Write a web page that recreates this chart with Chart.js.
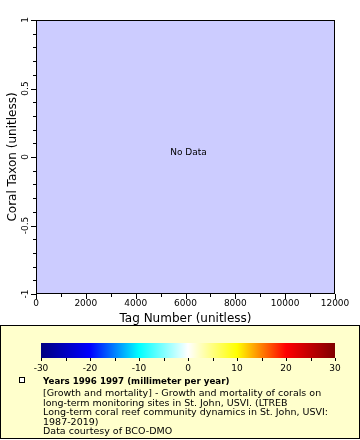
<!DOCTYPE html>
<html>
<head>
<meta charset="utf-8">
<script src="https://cdn.jsdelivr.net/npm/chart.js@4/dist/chart.umd.min.js"></script>
<style>
  body { margin: 0; background: #fff; font-family: "DejaVu Sans", sans-serif; }
  #wrap { position: relative; width: 360px; height: 440px; }
  #main { position: absolute; left: 0; top: 0; }
  #legend { position: absolute; left: 0; top: 325px; width: 358px; height: 112px;
            border: 1px solid #000; background: #ffffcc; }
  #cbar { position: absolute; left: 0; top: 325px; }
  .mk { position: absolute; left: 19px; top: 377px; width: 4px; height: 4px; border: 1px solid #000; background: #fff; }
  .txt { position: absolute; left: 43px; color: #000; white-space: pre; }
  .bold { font-weight: bold; font-size: 8.7px; line-height: 10px; top: 376px; }
  .body { font-size: 9.5px; line-height: 9.5px; top: 388px; }
</style>
</head>
<body>
<div id="wrap">
  <canvas id="main" width="360" height="325"></canvas>
  <div id="legend"></div>
  <canvas id="cbar" width="360" height="55"></canvas>
  <div class="mk"></div>
  <div class="txt bold">Years 1996 1997 (millimeter per year)</div>
  <div class="txt body">[Growth and mortality] - Growth and mortality of corals on
long-term monitoring sites in St. John, USVI. (LTREB
Long-term coral reef community dynamics in St. John, USVI:
1987-2019)
Data courtesy of BCO-DMO</div>
</div>
<script>
// data: no points in this selection
const tagNumbers = [];
const coralTaxon = [];
const xRange = [0, 12000];
const xMajorStep = 2000;
const xMinorStep = 1000;
const yRange = [-1, 1];
const yMajorStep = 0.5;
const yMinorStep = 0.1;
const xTitle = 'Tag Number (unitless)';
const yTitle = 'Coral Taxon (unitless)';
const noDataText = 'No Data';

// colorbar
const cbarRange = [-30, 30];
const cbarStops = [-30, -20, -10, 0, 10, 20, 30];
const cbarColors = ['#000080', '#0000ff', '#00ffff', '#ffffff', '#ffff00', '#ff0000', '#800000'];
const cbarLabelStep = 10;
const cbarTickStep = 5;

const FONT = '"DejaVu Sans", sans-serif';

function isMajor(v, step) {
  const r = v / step;
  return Math.abs(r - Math.round(r)) < 1e-6;
}

const plotDecor = {
  id: 'plotDecor',
  beforeDraw(chart) {
    const { ctx, chartArea: a } = chart;
    ctx.save();
    ctx.fillStyle = '#ccccff';
    ctx.fillRect(a.left, a.top, a.right - a.left, a.bottom - a.top);
    ctx.restore();
  },
  afterDraw(chart) {
    const { ctx, chartArea: a } = chart;
    const xs = chart.scales.x, ys = chart.scales.y;
    ctx.save();
    ctx.strokeStyle = '#000';
    ctx.lineWidth = 1;
    ctx.strokeRect(a.left + 0.5, a.top + 0.5, a.right - a.left - 1, a.bottom - a.top - 1);

    // x ticks
    ctx.beginPath();
    xs.ticks.forEach(t => {
      const px = Math.round(xs.getPixelForValue(t.value)) + 0.5;
      const len = isMajor(t.value, xMajorStep) ? 5 : 3;
      ctx.moveTo(px, a.bottom);
      ctx.lineTo(px, a.bottom + len);
    });
    // y ticks
    ys.ticks.forEach(t => {
      const py = Math.round(ys.getPixelForValue(t.value)) + 0.5;
      const len = isMajor(t.value, yMajorStep) ? 5 : 3;
      ctx.moveTo(a.left, py);
      ctx.lineTo(a.left - len, py);
    });
    ctx.stroke();

    // y labels, rotated
    ctx.fillStyle = '#000';
    ctx.font = '9px ' + FONT;
    ctx.textAlign = 'center';
    ctx.textBaseline = 'middle';
    ys.ticks.forEach(t => {
      if (!isMajor(t.value, yMajorStep)) return;
      const py = ys.getPixelForValue(t.value);
      const v = Math.round(t.value * 10) / 10;
      ctx.save();
      ctx.translate(26, py);
      ctx.rotate(-Math.PI / 2);
      ctx.fillText(String(v), 0, 0);
      ctx.restore();
    });

    // axis titles
    ctx.font = '12px ' + FONT;
    ctx.fillText(xTitle, (a.left + a.right) / 2, 319);
    ctx.save();
    ctx.translate(13, (a.top + a.bottom) / 2);
    ctx.rotate(-Math.PI / 2);
    ctx.fillText(yTitle, 0, 0);
    ctx.restore();

    // no data
    if (tagNumbers.length === 0) {
      ctx.font = '9px ' + FONT;
      ctx.fillText(noDataText, (a.left + a.right) / 2 + 3, 153);
    }
    ctx.restore();
  }
};

new Chart(document.getElementById('main'), {
  type: 'scatter',
  data: {
    datasets: [{
      label: 'Years 1996 1997',
      data: tagNumbers.map((x, i) => ({ x: x, y: coralTaxon[i] })),
      pointRadius: 2
    }]
  },
  options: {
    responsive: false,
    animation: false,
    layout: { padding: { left: 0, right: 25, top: 20, bottom: 0 } },
    plugins: { legend: { display: false }, tooltip: { enabled: false } },
    scales: {
      x: {
        type: 'linear',
        min: xRange[0],
        max: xRange[1],
        grid: { display: false, drawTicks: false },
        border: { display: false },
        ticks: {
          stepSize: xMinorStep,
          autoSkip: false,
          maxRotation: 0,
          padding: 4,
          color: '#000',
          font: { family: FONT, size: 9 },
          callback: v => isMajor(v, xMajorStep) ? String(v) : ''
        },
        afterFit: s => { s.height = 31; }
      },
      y: {
        type: 'linear',
        min: yRange[0],
        max: yRange[1],
        grid: { display: false, drawTicks: false },
        border: { display: false },
        ticks: {
          stepSize: yMinorStep,
          autoSkip: false,
          color: 'rgba(0,0,0,0)',
          font: { family: FONT, size: 9 },
          callback: () => ''
        },
        afterFit: s => { s.width = 36; }
      }
    }
  },
  plugins: [plotDecor]
});

// colorbar chart
const cbarFill = {
  id: 'cbarFill',
  beforeDatasetsDraw(chart) {
    const xs = chart.scales.x;
    const g = chart.ctx.createLinearGradient(xs.getPixelForValue(cbarRange[0]), 0, xs.getPixelForValue(cbarRange[1]), 0);
    cbarStops.forEach((v, i) => {
      g.addColorStop((v - cbarRange[0]) / (cbarRange[1] - cbarRange[0]), cbarColors[i]);
    });
    chart.getDatasetMeta(0).data.forEach(el => { el.options.backgroundColor = g; });
  },
  afterDraw(chart) {
    const { ctx, chartArea: a } = chart;
    const xs = chart.scales.x;
    ctx.save();
    ctx.strokeStyle = '#000';
    ctx.lineWidth = 1;
    ctx.beginPath();
    xs.ticks.forEach(t => {
      const px = Math.round(xs.getPixelForValue(t.value)) + 0.5;
      ctx.moveTo(px, a.bottom);
      ctx.lineTo(px, a.bottom + 3);
    });
    ctx.stroke();
    ctx.restore();
  }
};

new Chart(document.getElementById('cbar'), {
  type: 'bar',
  data: {
    labels: [''],
    datasets: [{
      data: [[cbarRange[0], cbarRange[1]]],
      backgroundColor: '#ffffff',
      borderWidth: 0,
      barPercentage: 1,
      categoryPercentage: 1
    }]
  },
  options: {
    indexAxis: 'y',
    responsive: false,
    animation: false,
    layout: { padding: { left: 41, right: 25, top: 18, bottom: 0 } },
    plugins: { legend: { display: false }, tooltip: { enabled: false } },
    scales: {
      x: {
        type: 'linear',
        min: cbarRange[0],
        max: cbarRange[1],
        grid: { display: false, drawTicks: false },
        border: { display: false },
        ticks: {
          stepSize: cbarTickStep,
          autoSkip: false,
          maxRotation: 0,
          padding: 5,
          color: '#000',
          font: { family: FONT, size: 9 },
          callback: v => isMajor(v, cbarLabelStep) ? String(v) : ''
        },
        afterFit: s => { s.height = 22; }
      },
      y: { display: false }
    }
  },
  plugins: [cbarFill]
});
</script>
</body>
</html>
